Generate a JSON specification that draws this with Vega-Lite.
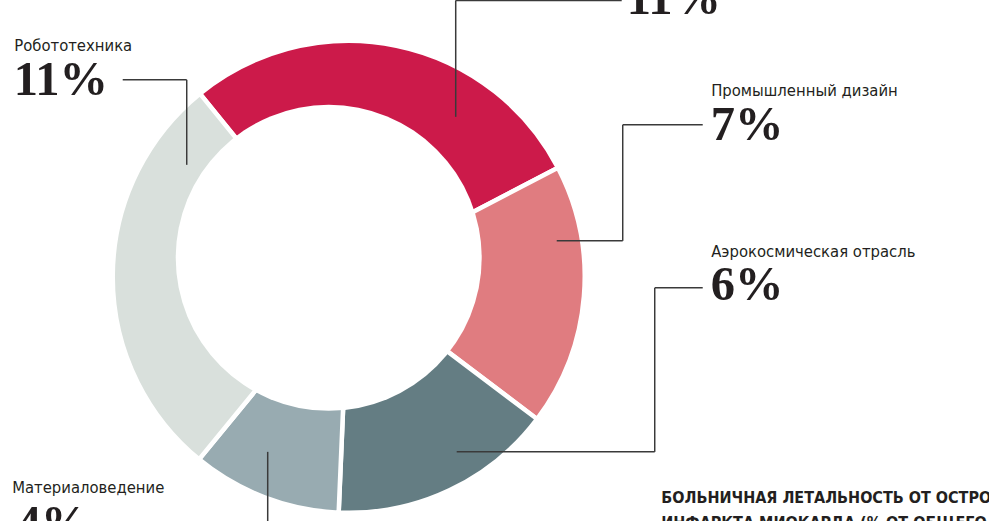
{
  "$schema": "https://vega.github.io/schema/vega-lite/v6.json",
  "width": 989,
  "height": 521,
  "autosize": "none",
  "padding": 0,
  "background": "#ffffff",
  "config": {"view": {"stroke": null}},
  "layer": [
    {
      "data": {"values": [
        {"cat": "top", "value": 11, "idx": 1},
        {"cat": "Промышленный дизайн", "value": 7, "idx": 2},
        {"cat": "Аэрокосмическая отрасль", "value": 6, "idx": 3},
        {"cat": "Материаловедение", "value": 4, "idx": 4},
        {"cat": "Робототехника", "value": 11, "idx": 5}
      ]},
      "mark": {"type": "arc", "outerRadius": 236, "innerRadius": 0, "stroke": "#ffffff", "strokeWidth": 4.5},
      "encoding": {
        "theta": {"field": "value", "type": "quantitative", "stack": true, "scale": {"range": [-0.6824, 5.6008]}},
        "color": {"field": "cat", "type": "nominal", "legend": null,
          "scale": {"domain": ["top", "Промышленный дизайн", "Аэрокосмическая отрасль", "Материаловедение", "Робототехника"],
                    "range": ["#CC1A4A", "#E07C80", "#647D83", "#98ABB1", "#D9E0DC"]}},
        "order": {"field": "idx", "type": "quantitative"},
        "x": {"datum": 0, "type": "quantitative", "scale": {"domain": [-149.5, 274.5], "nice": false, "zero": false}, "axis": null},
        "y": {"datum": 0, "type": "quantitative", "scale": {"domain": [-104.5, 118.5], "nice": false, "zero": false}, "axis": null}
      }
    },
    {
      "data": {"values": [{"hole": "inner"}]},
      "mark": {"type": "arc", "theta": 0, "theta2": 6.2832, "outerRadius": 153, "innerRadius": 0, "fill": "#ffffff", "strokeWidth": 0},
      "encoding": {
        "x": {"datum": -8.57, "type": "quantitative", "scale": {"domain": [-149.5, 274.5], "nice": false, "zero": false}, "axis": null},
        "y": {"datum": 8.14, "type": "quantitative", "scale": {"domain": [-104.5, 118.5], "nice": false, "zero": false}, "axis": null}
      }
    },
    {
      "data": {"values": [
        {"x": 45.87, "y": 68.49, "x2": 45.87, "y2": 118.32},
        {"x": 45.87, "y": 118.32, "x2": 117.04, "y2": 118.32},
        {"x": -69.45, "y": 47.95, "x2": -69.45, "y2": 84.33},
        {"x": -69.45, "y": 84.33, "x2": -96.89, "y2": 84.33},
        {"x": 89.18, "y": 15.41, "x2": 117.47, "y2": 15.41},
        {"x": 117.47, "y": 15.41, "x2": 117.47, "y2": 65.07},
        {"x": 117.47, "y": 65.07, "x2": 151.77, "y2": 65.07},
        {"x": 46.3, "y": -74.91, "x2": 131.19, "y2": -74.91},
        {"x": 131.19, "y": -74.91, "x2": 131.19, "y2": -4.71},
        {"x": 131.19, "y": -4.71, "x2": 151.77, "y2": -4.71},
        {"x": -34.73, "y": -74.91, "x2": -34.73, "y2": -110}
      ]},
      "mark": {"type": "rule", "color": "#3a3a3a", "strokeWidth": 1.5},
      "encoding": {
        "x": {"field": "x", "type": "quantitative", "scale": {"domain": [-149.5, 274.5], "nice": false, "zero": false}, "axis": null},
        "y": {"field": "y", "type": "quantitative", "scale": {"domain": [-104.5, 118.5], "nice": false, "zero": false}, "axis": null},
        "x2": {"field": "x2"},
        "y2": {"field": "y2"}
      }
    },
    {
      "data": {"values": [
        {"t": "Робототехника", "x": -143.4, "y": 96.75},
        {"t": "Промышленный дизайн", "x": 155.4, "y": 77.48},
        {"t": "Аэрокосмическая отрасль", "x": 155.4, "y": 8.69},
        {"t": "Материаловедение", "x": -144.3, "y": -92.6}
      ]},
      "mark": {"type": "text", "align": "left", "baseline": "alphabetic", "font": "DejaVu Sans Condensed, Roboto Condensed, Roboto, sans-serif", "fontSize": 16.5, "color": "#231F20"},
      "encoding": {
        "x": {"field": "x", "type": "quantitative", "scale": {"domain": [-149.5, 274.5], "nice": false, "zero": false}, "axis": null},
        "y": {"field": "y", "type": "quantitative", "scale": {"domain": [-104.5, 118.5], "nice": false, "zero": false}, "axis": null},
        "text": {"field": "t"}
      }
    },
    {
      "data": {"values": [
        {"t": "11%", "x": 119.2, "y": 112.59},
        {"t": "11%", "x": -143.6, "y": 77.91},
        {"t": "7%", "x": 155.2, "y": 58.65},
        {"t": "6%", "x": 155.2, "y": -9.85},
        {"t": "4%", "x": -142.3, "y": -112.0}
      ]},
      "mark": {"type": "text", "align": "left", "baseline": "alphabetic", "font": "Liberation Serif", "fontWeight": "bold", "fontSize": 48.5, "color": "#231F20"},
      "encoding": {
        "x": {"field": "x", "type": "quantitative", "scale": {"domain": [-149.5, 274.5], "nice": false, "zero": false}, "axis": null},
        "y": {"field": "y", "type": "quantitative", "scale": {"domain": [-104.5, 118.5], "nice": false, "zero": false}, "axis": null},
        "text": {"field": "t"}
      }
    },
    {
      "data": {"values": [
        {"t": "БОЛЬНИЧНАЯ ЛЕТАЛЬНОСТЬ ОТ ОСТРОГО", "x": 134.0, "y": -96.88},
        {"t": "ИНФАРКТА МИОКАРДА (% ОТ ОБЩЕГО", "x": 134.0, "y": -107.4}
      ]},
      "mark": {"type": "text", "align": "left", "baseline": "alphabetic", "font": "DejaVu Sans Condensed, Roboto Condensed, Roboto, sans-serif", "fontWeight": "bold", "fontSize": 16, "color": "#231F20"},
      "encoding": {
        "x": {"field": "x", "type": "quantitative", "scale": {"domain": [-149.5, 274.5], "nice": false, "zero": false}, "axis": null},
        "y": {"field": "y", "type": "quantitative", "scale": {"domain": [-104.5, 118.5], "nice": false, "zero": false}, "axis": null},
        "text": {"field": "t"}
      }
    }
  ]
}
